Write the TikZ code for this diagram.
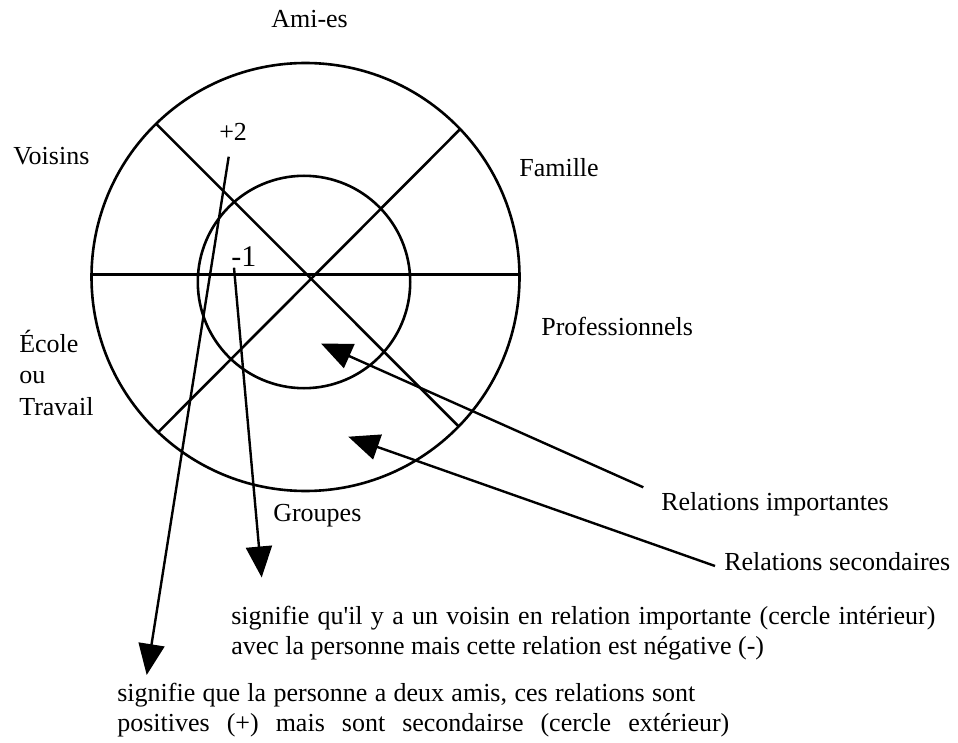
\documentclass[tikz,border=0pt]{standalone}
\usepackage{fontspec}
\setmainfont{Liberation Serif}
\usetikzlibrary{arrows.meta}
\begin{document}
\begin{tikzpicture}[x=1pt,y=-1pt,
  line width=2.6pt,
  lbl/.style={anchor=base west, inner sep=0pt, font=\fontsize{26}{31}\selectfont},
  big/.style={anchor=base west, inner sep=0pt, font=\fontsize{30}{34}\selectfont},
  pointer/.style={-{Triangle[length=31pt,width=26pt]}, line width=2.4pt}]
\useasboundingbox (0,0) rectangle (958,743);
% circles
\draw (305.5,277) circle[radius=214pt];
\draw (304,282) circle[radius=106.2pt];
% dividing lines
\draw (91.5,274.3) -- (519.5,274.3);
\draw (156.7,124.3) -- (459,426.7);
\draw (460,129.3) -- (157.7,432.7);
% sector labels
\node[lbl] (amies) at (270,28) {Ami-es};
\node[lbl] (voisins) at (12,165) {Voisins};
\node[lbl] (famille) at (518,177) {Famille};
\node[lbl] (pro) at (540,335) {Professionnels};
\node[lbl] (ecole) at (18,352) {École};
\node[lbl] (ou) at (18,383) {ou};
\node[lbl] (travail) at (18,415) {Travail};
\node[lbl] (groupes) at (272,521) {Groupes};
% values
\node[lbl] (plus) at (218,141) {+2};
\node[big] (minus) at (230,266) {-1};
% legend
\node[lbl] (relimp) at (660,510) {Relations importantes};
\node[lbl] (relsec) at (723,570) {Relations secondaires};
\node[lbl] (p1a) at (230,624) {\makebox[704pt][s]{signifie qu\textquotesingle il y a un voisin en relation importante (cercle intérieur)}};
\node[lbl] (p1b) at (230,654) {avec la personne mais cette relation est négative (-)};
\node[lbl] (p2a) at (116,701) {\makebox[578pt][s]{signifie que la personne a deux amis, ces relations sont}};
\node[lbl] (p2b) at (116,731) {\makebox[612pt][s]{positives (+) mais sont secondairse (cercle extérieur)}};
% connector end points
\coordinate (plusfoot) at (228.7,156.7);
\coordinate (plustip) at (146.7,675);
\coordinate (minusfoot) at (234,267.7);
\coordinate (minustip) at (261.7,577.5);
\coordinate (impfoot) at (643.3,487.3);
\coordinate (imptip) at (321,343.5);
\coordinate (secfoot) at (715,566);
\coordinate (sectip) at (348.3,436.7);
% connectors
\draw[pointer] (plusfoot) -- (plustip);
\draw[pointer] (minusfoot) -- (minustip);
\draw[pointer] (impfoot) -- (imptip);
\draw[pointer] (secfoot) -- (sectip);
\end{tikzpicture}
\end{document}
